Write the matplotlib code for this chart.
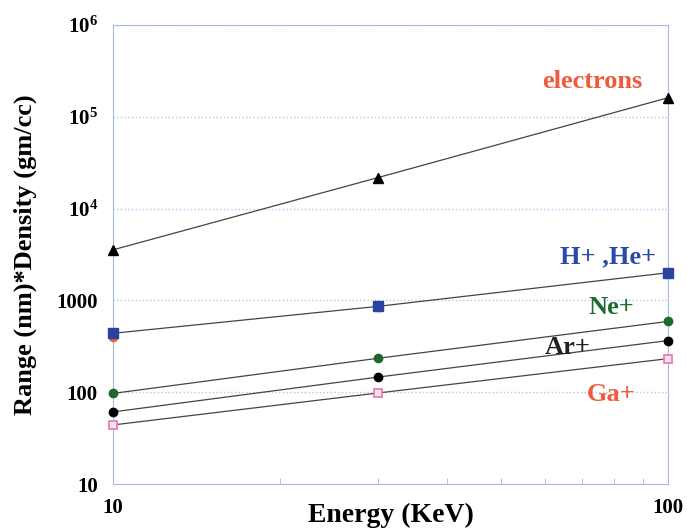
import matplotlib.pyplot as plt
from matplotlib.ticker import NullFormatter

energy = [10, 30, 100]
electrons = [3550, 21700, 161000]
h_he = [438, 860, 2000]
h_he_red = [400, 850, 2000]
ne = [97, 234, 590]
ar = [61, 146, 365]
ga = [44, 98, 232]

plt.rcParams['font.family'] = ['Liberation Serif', 'DejaVu Serif']
plt.rcParams['font.weight'] = 'bold'
plt.rcParams['axes.labelweight'] = 'bold'
plt.rcParams['mathtext.fontset'] = 'custom'
plt.rcParams['mathtext.bf'] = 'Liberation Serif:bold'
plt.rcParams['mathtext.rm'] = 'Liberation Serif:bold'

fig = plt.figure(figsize=(6.87, 5.29), dpi=100)
ax = fig.add_axes([0.1645, 0.085, 0.808, 0.868])
ax.set_xscale('log')
ax.set_yscale('log')
ax.set_xlim(10, 100)
ax.set_ylim(10, 1e6)

line_kw = dict(color='#444444', lw=0.9, zorder=2)
for ys in [electrons, h_he, ne, ar, ga]:
    ax.plot(energy, ys, **line_kw)

ax.plot(energy, h_he_red, 'o', color='#f06040', ms=6, zorder=3, clip_on=False)
ax.plot(energy, electrons, '^', color='black', ms=7, zorder=4, clip_on=False)
ax.plot(energy, h_he, 's', color='#2a42a0', ms=7, zorder=4, clip_on=False)
ax.plot(energy, ne, 'o', color='#1c6a30', ms=6, zorder=4, clip_on=False)
ax.plot(energy, ar, 'o', color='black', ms=6, zorder=4, clip_on=False)
ax.plot(energy, ga, 's', mfc='#fbe4ee', mec='#e880b0', mew=1.3, ms=6, zorder=4, clip_on=False)

lab_kw = dict(fontsize=19, fontweight='bold', ha='center', va='center')
ax.text(73, 2.4e5, 'electrons', color='#f05a3c', **lab_kw)
ax.text(78, 3000, 'H+ ,He+', color='#2a4aa8', **lab_kw)
ax.text(79, 840, 'Ne+', color='#1e6b30', **lab_kw)
ax.text(66, 309, 'Ar+', color='#222222', **lab_kw)
ax.text(79, 95, 'Ga+', color='#f05a3c', **lab_kw)

ax.yaxis.grid(True, which='major', color='#b8c4f0', ls=':', lw=1)
for s in ax.spines.values():
    s.set_color('#a8b8ec')

ax.set_yticks([10, 100, 1000, 1e4, 1e5, 1e6])
ax.set_yticklabels(['10', '100', '1000', r'$\mathbf{10^4}$', r'$\mathbf{10^5}$', r'$\mathbf{10^6}$'])
ax.yaxis.set_minor_formatter(NullFormatter())
ax.set_xticks([10, 100])
ax.set_xticklabels(['10', '100'])
ax.xaxis.set_minor_formatter(NullFormatter())
ax.tick_params(axis='both', which='both', direction='in', colors='#a8b8ec', labelcolor='black', labelsize=15)
ax.tick_params(axis='y', which='minor', length=0)
ax.tick_params(axis='x', which='minor', length=4)
ax.tick_params(axis='x', which='major', length=0, pad=10)
ax.tick_params(axis='y', which='major', length=0, pad=11)

ax.set_xlabel('Energy (KeV)', fontsize=20)
ax.xaxis.set_label_coords(0.5, -0.042)
ax.set_ylabel('Range (nm)*Density (gm/cc)', fontsize=19)
ax.yaxis.set_label_coords(-0.137, 0.5)

fig.savefig('out.png', dpi=100)
